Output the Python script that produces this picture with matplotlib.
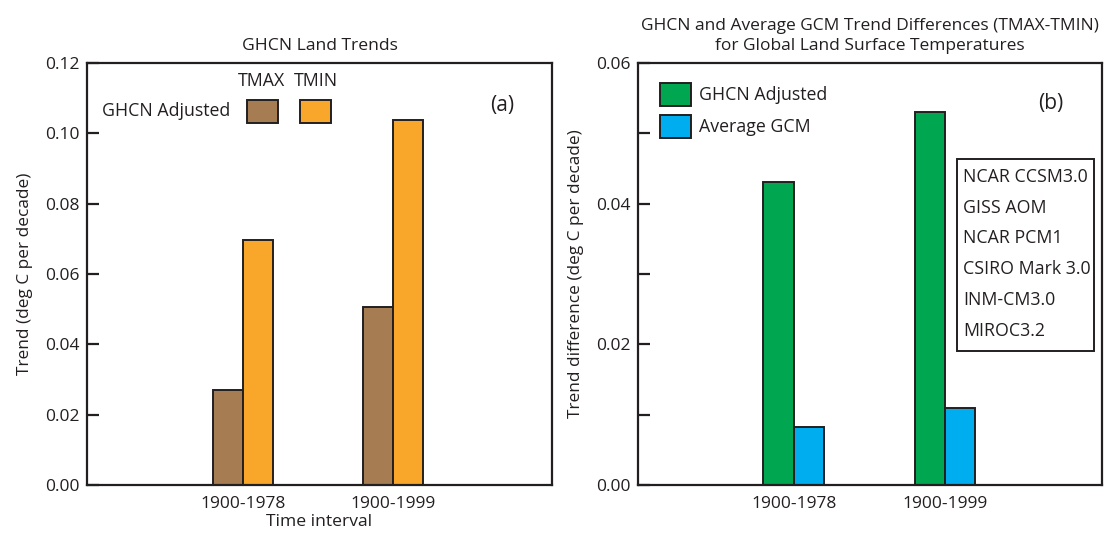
import numpy as np
import matplotlib.pyplot as plt
from matplotlib.patches import Rectangle

plt.rcParams['font.family'] = ['Open Sans', 'DejaVu Sans']
plt.rcParams['font.size'] = 12.5
plt.rcParams['text.color'] = "#231F20"
plt.rcParams['xtick.color'] = "#231F20"
plt.rcParams['ytick.color'] = "#231F20"
plt.rcParams['axes.labelcolor'] = "#231F20"

# trends, deg C per decade
periods = ["1900-1978", "1900-1999"]
tmax_adj = [0.0270, 0.0506]
tmin_adj = [0.0697, 0.1037]

# TMAX - TMIN trend differences
ghcn_diff = [0.0431, 0.0530]
gcm_diff = [0.0082, 0.0110]

models = ["NCAR CCSM3.0", "GISS AOM", "NCAR PCM1",
          "CSIRO Mark 3.0", "INM-CM3.0", "MIROC3.2"]

c_tmax = "#A67C52"
c_tmin = "#F9A72B"
c_ghcn = "#00A650"
c_gcm = "#00AEEF"
ink = "#231F20"

W, H = 1104, 534
fig = plt.figure(figsize=(W/100, H/100), dpi=100)
axa = fig.add_axes([87/W, 1-485/H, 465/W, 422/H])
axb = fig.add_axes([638/W, 1-485/H, 464/W, 422/H])

x = np.arange(1, len(periods)+1)
bw = 0.2

def style(ax):
    for s in ax.spines.values():
        s.set_linewidth(1.6)
        s.set_color(ink)
    ax.tick_params(axis='y', direction='in', length=8.5, width=1.6,
                   color=ink, pad=5, labelsize=12.5)
    ax.tick_params(axis='x', length=0, pad=8, labelsize=12.5)
    ax.set_xticks(x)
    ax.set_xticklabels(periods)

# (a) land trends
axa.bar(x-bw/2, tmax_adj, bw, color=c_tmax, edgecolor=ink, linewidth=1.4)
axa.bar(x+bw/2, tmin_adj, bw, color=c_tmin, edgecolor=ink, linewidth=1.4)
axa.set_xlim(-0.04, 3.06)
axa.set_ylim(0, 0.12)
axa.set_yticks(np.arange(0, 0.121, 0.02))
axa.set_yticklabels(["%.2f" % v for v in np.arange(0, 0.121, 0.02)])
style(axa)
axa.set_title("GHCN Land Trends", fontsize=12.6, pad=9)
axa.set_ylabel("Trend (deg C per decade)", fontsize=12.4, labelpad=9)
axa.set_xlabel("Time interval", fontsize=12.6, labelpad=1)

axa.text(0.376, 0.957, "TMAX", transform=axa.transAxes, ha='center', va='center', fontsize=12.8)
axa.text(0.492, 0.957, "TMIN", transform=axa.transAxes, ha='center', va='center', fontsize=12.8)
axa.text(0.309, 0.886, "GHCN Adjusted", transform=axa.transAxes, ha='right', va='center', fontsize=12.8)
axa.add_patch(Rectangle((0.344, 0.858), 0.0667, 0.0545, transform=axa.transAxes,
                        facecolor=c_tmax, edgecolor=ink, linewidth=1.4, clip_on=False))
axa.add_patch(Rectangle((0.459, 0.858), 0.0656, 0.0545, transform=axa.transAxes,
                        facecolor=c_tmin, edgecolor=ink, linewidth=1.4, clip_on=False))
axa.text(0.892, 0.90, "(a)", transform=axa.transAxes, ha='center', va='center', fontsize=15)

# (b) trend differences
axb.bar(x-bw/2, ghcn_diff, bw, color=c_ghcn, edgecolor=ink, linewidth=1.4)
axb.bar(x+bw/2, gcm_diff, bw, color=c_gcm, edgecolor=ink, linewidth=1.4)
axb.set_xlim(-0.03, 3.04)
axb.set_ylim(0, 0.06)
yt = np.arange(0, 0.061, 0.01)
axb.set_yticks(yt)
axb.set_yticklabels(["%.2f" % v if i % 2 == 0 else "" for i, v in enumerate(yt)])
style(axb)
axb.set_title("GHCN and Average GCM Trend Differences (TMAX-TMIN)\n"
              "for Global Land Surface Temperatures", fontsize=12.5, pad=9,
              linespacing=1.4)
axb.set_ylabel("Trend difference (deg C per decade)", fontsize=12.4, labelpad=9)

axb.add_patch(Rectangle((0.0474, 0.898), 0.0668, 0.0545, transform=axb.transAxes,
                        facecolor=c_ghcn, edgecolor=ink, linewidth=1.4))
axb.add_patch(Rectangle((0.0474, 0.822), 0.0668, 0.0545, transform=axb.transAxes,
                        facecolor=c_gcm, edgecolor=ink, linewidth=1.4))
axb.text(0.131, 0.924, "GHCN Adjusted", transform=axb.transAxes, va='center', fontsize=12.8)
axb.text(0.131, 0.848, "Average GCM", transform=axb.transAxes, va='center', fontsize=12.8)
axb.text(0.890, 0.903, "(b)", transform=axb.transAxes, ha='center', va='center', fontsize=15)

# models in the GCM average
axb.add_patch(Rectangle((0.6875, 0.3175), 0.2955, 0.455, transform=axb.transAxes,
                        facecolor='white', edgecolor=ink, linewidth=1.4))
for i, m in enumerate(models):
    axb.text(0.70, 0.730 - i*0.0728, m, transform=axb.transAxes, va='center', fontsize=12.8)

fig.savefig("out.png", dpi=100)
